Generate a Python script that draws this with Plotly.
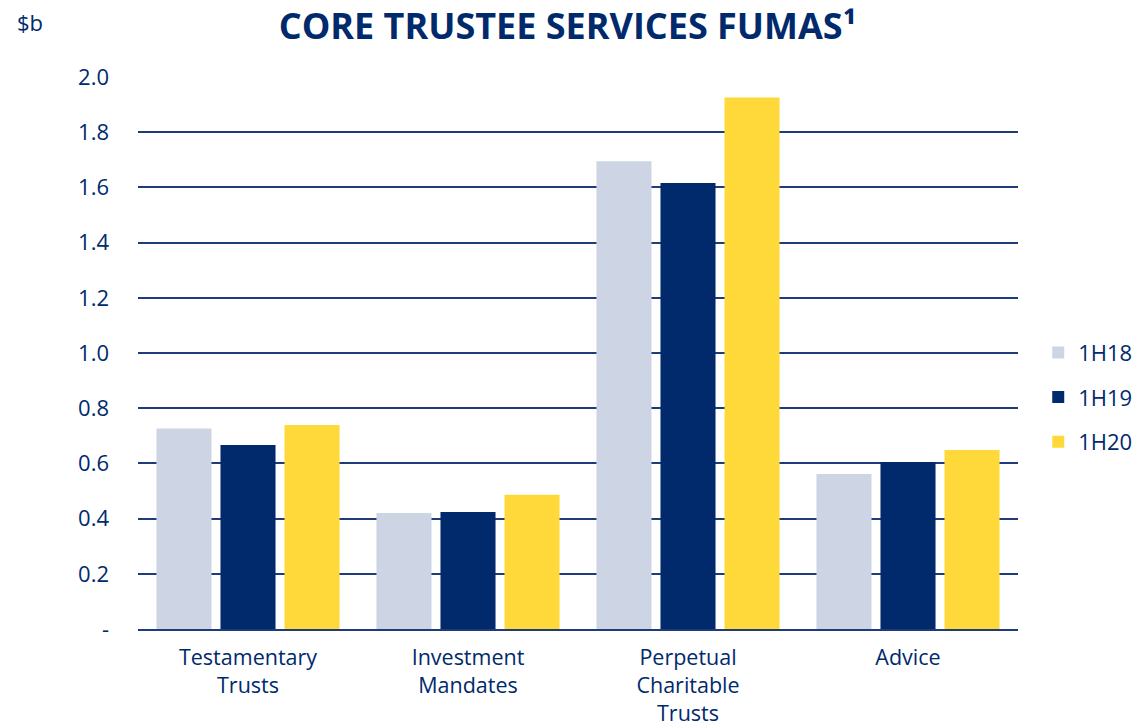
import plotly.graph_objects as go

categories = ["Testamentary<br>Trusts", "Investment<br>Mandates", "Perpetual<br>Charitable<br>Trusts", "Advice"]
series_names = ["1H18", "1H19", "1H20"]
v_1h18 = [0.726, 0.420, 1.695, 0.562]
v_1h19 = [0.667, 0.424, 1.616, 0.605]
v_1h20 = [0.739, 0.486, 1.926, 0.649]
tick_vals = [0, 0.2, 0.4, 0.6, 0.8, 1.0, 1.2, 1.4, 1.6, 1.8, 2.0]
tick_text = ["-", "0.2", "0.4", "0.6", "0.8", "1.0", "1.2", "1.4", "1.6", "1.8", "2.0"]

colors = ["#CDD5E4", "#002A6C", "#FFD939"]
navy = "#002A6C"
font = "Open Sans"

fig = go.Figure()
for name, vals, c in zip(series_names, [v_1h18, v_1h19, v_1h20], colors):
    fig.add_trace(go.Bar(name=name, x=categories, y=vals, legendgroup=name,
                         marker=dict(color=c, line=dict(width=0))))

fig.update_layout(
    width=1135, height=725,
    margin=dict(l=138, r=117, t=77, b=96, autoexpand=False),
    plot_bgcolor="white", paper_bgcolor="white",
    barmode="group", bargap=0.127, bargroupgap=0.14,
    font=dict(family=font, size=22, color=navy),
    title=dict(text="<b>CORE TRUSTEE SERVICES FUMAS¹</b>", x=0.5, xanchor="center",
               xref="container", y=0.964, yanchor="middle",
               font=dict(family=font, size=36, color=navy, weight=800)),
    legend=dict(x=1.023, xanchor="left", y=0.42, yanchor="middle", font=dict(size=22, color=navy),
                itemwidth=30, tracegroupgap=13, bgcolor="rgba(0,0,0,0)"),
    showlegend=True,
)
fig.update_yaxes(range=[0, 2.0], tickvals=tick_vals, ticktext=tick_text, showgrid=True,
                 gridcolor="#1F3B7A", gridwidth=2, zeroline=False, showline=False, automargin=False,
                 ticks="", ticklabelstandoff=28, layer="below traces")
fig.update_xaxes(showgrid=False, showline=True, linecolor="#1F3B7A", linewidth=2, ticks="", automargin=False,
                 ticklabelstandoff=8, tickfont=dict(size=21.5, color=navy), layer="below traces")
fig.add_annotation(text="$b", xref="paper", yref="paper", x=-0.14, y=1.1,
                   xanchor="left", yanchor="middle", showarrow=False, font=dict(size=22, color=navy))
fig.write_html("out.html", config={"displayModeBar": False},
               post_script="document.body.style.margin='0';document.body.style.overflow='hidden';")
